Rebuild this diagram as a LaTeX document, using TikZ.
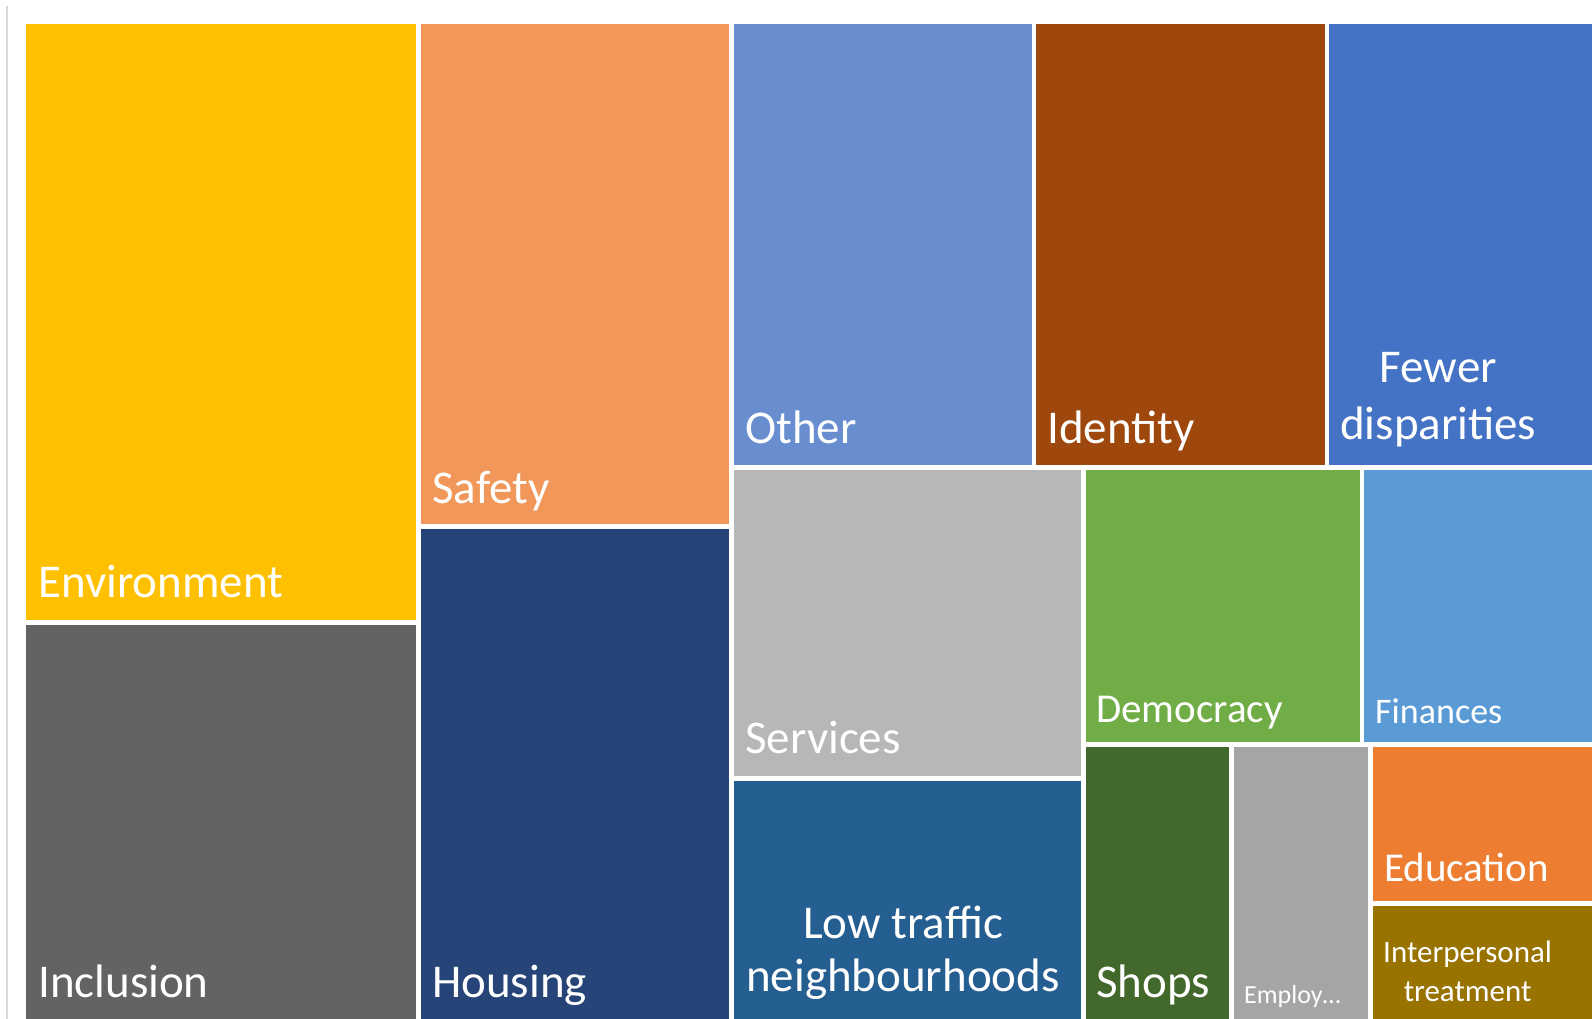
\documentclass[tikz,border=0pt]{standalone}
\usepackage{fontspec}
\setmainfont{Carlito}

\definecolor{environment}{HTML}{FFC000}
\definecolor{inclusion}{HTML}{636363}
\definecolor{safety}{HTML}{F1975A}
\definecolor{housing}{HTML}{264478}
\definecolor{other}{HTML}{698ED0}
\definecolor{identity}{HTML}{9E480E}
\definecolor{disparities}{HTML}{4472C4}
\definecolor{services}{HTML}{B7B7B7}
\definecolor{traffic}{HTML}{255E91}
\definecolor{democracy}{HTML}{70AD47}
\definecolor{finances}{HTML}{5B9BD5}
\definecolor{shops}{HTML}{43682B}
\definecolor{employ}{HTML}{A5A5A5}
\definecolor{education}{HTML}{ED7D31}
\definecolor{treatment}{HTML}{997300}
\definecolor{frame}{HTML}{D9D9D9}

\begin{document}
\begin{tikzpicture}[x=1pt,y=-1pt]

\tikzstyle{Label}=[text=white, inner sep=0pt, anchor=base west, align=center,
                   font=\fontsize{47}{55}\selectfont]
\tikzstyle{LabelMid}=[Label, font=\fontsize{41}{49}\selectfont]
\tikzstyle{LabelSmall}=[Label, font=\fontsize{36}{43}\selectfont]
\tikzstyle{LabelTiny}=[Label, font=\fontsize{31}{39}\selectfont]

  \useasboundingbox (0,0) rectangle (1592,1019);
  \draw[frame, line width=1.5pt] (7,6) -- (7,1019);

  % tiles
  \fill[environment] (26,24) rectangle (416,620);
  \fill[inclusion]   (26,625) rectangle (416,1019);
  \fill[safety]      (421,24) rectangle (729,524);
  \fill[housing]     (421,529) rectangle (729,1019);
  \fill[other]       (734,24) rectangle (1032,465);
  \fill[identity]    (1036,24) rectangle (1324.5,465);
  \fill[disparities] (1329,24) rectangle (1592,465);
  \fill[services]    (734,470) rectangle (1080.5,776);
  \fill[traffic]     (734,781) rectangle (1080.5,1019);
  \fill[democracy]   (1085.5,470) rectangle (1359.5,742);
  \fill[finances]    (1364,470) rectangle (1592,742);
  \fill[shops]       (1085.5,747) rectangle (1229,1019);
  \fill[employ]      (1234,747) rectangle (1368,1019);
  \fill[education]   (1372.5,747) rectangle (1592,901);
  \fill[treatment]   (1372.5,906) rectangle (1592,1019);

  % labels (multi-line ones sit on the baseline of their last line)
  \node[Label] (env)  at (38,597)  {Environment};
  \node[Label] (inc)  at (38,997)  {Inclusion};
  \node[Label] (saf)  at (432,503) {Safety};
  \node[Label] (hou)  at (432,997) {Housing};
  \node[Label] (oth)  at (745,443) {Other};
  \node[Label] (ide)  at (1047,443) {Identity};
  \node[Label, font=\fontsize{47}{57}\selectfont] (dis) at (1340,439) {Fewer\\disparities};
  \node[Label] (ser)  at (745,753) {Services};
  \node[Label, font=\fontsize{47}{53}\selectfont] (low) at (746,991) {Low traffic\\neighbourhoods};
  \node[LabelMid] (dem) at (1096,722) {Democracy};
  \node[LabelSmall] (fin) at (1375,723) {Finances};
  \node[Label] (sho)  at (1096,997) {Shops};
  \node[Label, font=\fontsize{26}{31}\selectfont] (emp) at (1244,1003) {Employ…};
  \node[LabelMid] (edu) at (1384,881) {Education};
  \node[LabelTiny] (int) at (1383,1001) {Interpersonal\\treatment};

\end{tikzpicture}
\end{document}
